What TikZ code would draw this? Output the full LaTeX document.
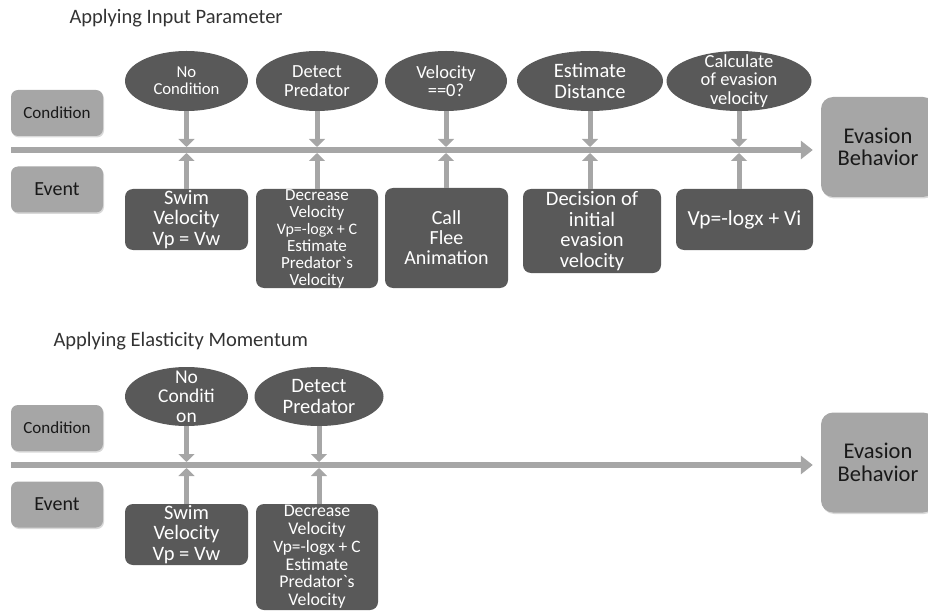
\documentclass[tikz,border=0pt]{standalone}
\usepackage{fontspec}
\setmainfont{Carlito}
\usetikzlibrary{shapes.geometric,arrows.meta,shadows,positioning}
\definecolor{darkbox}{HTML}{595959}
\definecolor{lightbox}{HTML}{A6A6A6}
\newcommand{\fsz}[1]{\fontsize{#1}{#1}\selectfont}

\begin{document}
\begin{tikzpicture}[x=1pt,y=-1pt,
  cond/.style={ellipse, fill=darkbox, text=white, inner sep=-10pt, align=center, minimum height=60pt},
  evt/.style={rectangle, rounded corners=8pt, fill=darkbox, text=white, inner sep=0pt, align=center},
  lane/.style={rectangle, rounded corners=7pt, fill=lightbox, text=black!90, minimum width=92pt, minimum height=46pt,
    drop shadow={opacity=0.3, shadow xshift=1pt, shadow yshift=-1.5pt}},
  goal/.style={lane, rounded corners=12pt, minimum width=114pt, minimum height=100pt, align=center, font=\fsz{22.5}},
  axis/.style={line width=5.5pt, color=lightbox, -{Triangle[width=18pt,length=12pt]}, shorten >=8pt},
  feed/.style={line width=5pt, color=lightbox, -{Triangle[width=16pt,length=8pt]}},
  heading/.style={anchor=west, text=black!80, font=\fsz{20.5}}]

\path[use as bounding box, clip] (0,0) rectangle (928,612);

\node[heading] (titleA) at (66,18) {Applying Input Parameter};
\node[lane, font=\fsz{17}] (condA) at (57,113) {Condition};
\node[lane, font=\fsz{20}] (evtA) at (57,189.5) {Event};
\node[goal] (goalA) at (878,147) {Evasion\\Behavior};
\coordinate (startA) at (11,150);
\coordinate (topA) at (0,147);
\coordinate (botA) at (0,153);

\node[cond, minimum width=123pt, font=\fsz{16.7}] (cA1) at (186.5,81) {No\\Condition};
\node[cond, minimum width=122pt, font=\fsz{18.5}] (cA2) at (317,81) {Detect\\Predator};
\node[cond, minimum width=122pt, font=\fsz{18.5}] (cA3) at (446,81) {Velocity\\==0?};
\node[cond, minimum width=146pt, font=\fsz{20.5}] (cA4) at (590,81) {Estimate\\Distance};
\node[cond, minimum width=145pt, font=\fsz{18.5}] (cA5) at (739,81) {Calculate\\of evasion\\velocity};

\node[evt, minimum width=123pt, minimum height=61pt, font=\fsz{20.5}] (eA1) at (186.5,219.5) {Swim\\Velocity\\Vp = Vw};
\node[evt, minimum width=122pt, minimum height=99pt, font=\fsz{17}] (eA2) at (317,238.5)
  {Decrease\\Velocity\\{\fsz{16}Vp=-logx + C}\\Estimate\\Predator\textasciigrave s\\Velocity};
\node[evt, minimum width=123pt, minimum height=100pt, font=\fsz{20}] (eA3) at (446.5,238) {Call\\Flee\\Animation};
\node[evt, minimum width=138pt, minimum height=84pt, font=\fsz{20.5}] (eA4) at (592,231) {Decision of\\initial\\evasion\\velocity};
\node[evt, minimum width=137pt, minimum height=61pt, font=\fsz{21.5}] (eA5) at (744.5,219.5) {Vp=-logx + Vi};

\draw[axis] (startA) -- (goalA.west |- startA);
\foreach \c/\e in {cA1/eA1, cA2/eA2, cA3/eA3, cA4/eA4, cA5/eA5}{
  \draw[feed] (\c.south) -- (\c.south |- topA);
  \draw[feed] (\e.north -| \c) -- (\c |- botA);
}

\node[heading] (titleB) at (50,341) {Applying Elasticity Momentum};
\node[lane, font=\fsz{17}] (condB) at (57,428) {Condition};
\node[lane, font=\fsz{20}] (evtB) at (57,504.5) {Event};
\node[goal] (goalB) at (878,462.5) {Evasion\\Behavior};
\coordinate (startB) at (11,465);
\coordinate (topB) at (0,462);
\coordinate (botB) at (0,468);

\node[cond, minimum width=123pt, minimum height=59pt, font=\fsz{19.5}] (cB1) at (186.5,396.5) {No\\Conditi\\on};
\node[cond, minimum width=129pt, minimum height=59pt, font=\fsz{20.5}] (cB2) at (319,396.5) {Detect\\Predator};

\node[evt, minimum width=123pt, minimum height=61pt, font=\fsz{20.5}] (eB1) at (186.5,534.5) {Swim\\Velocity\\Vp = Vw};
\node[evt, minimum width=122pt, minimum height=106pt, font=\fsz{17.8}] (eB2) at (317,557)
  {Decrease\\Velocity\\{\fsz{17.4}Vp=-logx + C}\\Estimate\\Predator\textasciigrave s\\Velocity};

\draw[axis] (startB) -- (goalB.west |- startB);
\foreach \c/\e in {cB1/eB1, cB2/eB2}{
  \draw[feed] (\c.south) -- (\c.south |- topB);
  \draw[feed] (\e.north -| \c) -- (\c |- botB);
}

\end{tikzpicture}
\end{document}
